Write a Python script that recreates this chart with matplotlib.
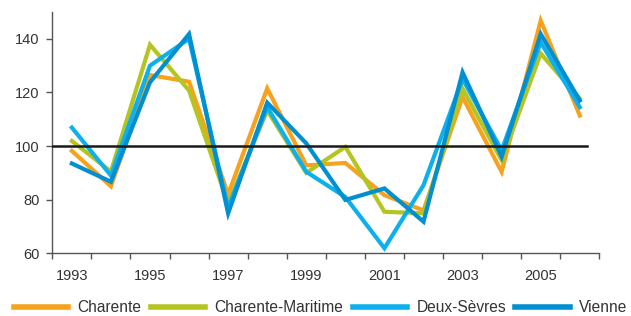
import matplotlib
matplotlib.use("Agg")
import matplotlib.pyplot as plt
from matplotlib.ticker import FixedLocator, NullFormatter, FixedFormatter

plt.rcParams["font.family"] = ["Liberation Sans", "DejaVu Sans"]

years = list(range(1993, 2007))
charente = [98.2, 85.0, 126.5, 124.0, 82.0, 121.5, 92.8, 93.7, 81.7, 76.0, 118.3, 90.4, 146.8, 111.4]
charente_maritime = [101.9, 90.5, 137.8, 120.7, 78.5, 113.3, 90.0, 99.7, 75.5, 74.9, 121.4, 94.7, 134.5, 117.7]
deux_sevres = [106.9, 89.0, 130.0, 140.0, 77.0, 114.5, 90.4, 81.0, 61.9, 85.4, 125.0, 98.4, 138.7, 114.5]
vienne = [93.5, 86.7, 123.8, 141.8, 74.9, 116.2, 101.0, 79.9, 84.2, 71.8, 127.5, 96.0, 141.8, 117.0]

series = [
    ("Charente", charente, "#F7A21D"),
    ("Charente-Maritime", charente_maritime, "#B5C420"),
    ("Deux-Sèvres", deux_sevres, "#0DB0EC"),
    ("Vienne", vienne, "#0090D2"),
]

AXIS = "#555555"
TEXT = "#333333"

fig = plt.figure(figsize=(6.31, 3.16), dpi=100)
ax = fig.add_axes([0.0829, 0.1984, 0.8669, 0.7636])

x = list(range(len(years)))
for name, vals, col in series:
    ax.plot(x, vals, color=col, linewidth=3.0, label=name, solid_joinstyle="miter")

ax.axhline(100, xmin=0, xmax=0.977, color="#1a1a1a", linewidth=1.8, zorder=5)

ax.set_xlim(-0.5, len(years) - 0.5)
ax.set_ylim(60, 150)
ax.set_yticks([60, 80, 100, 120, 140])

# ticks at category boundaries, labels every other year at centres
ax.xaxis.set_major_locator(FixedLocator([i - 0.5 for i in range(len(years) + 1)]))
ax.xaxis.set_major_formatter(NullFormatter())
label_pos = [i for i in x if i % 2 == 0]
ax.xaxis.set_minor_locator(FixedLocator(label_pos))
ax.xaxis.set_minor_formatter(FixedFormatter([str(years[i]) for i in label_pos]))
ax.tick_params(axis="x", which="major", length=4, width=1, color=AXIS, direction="out")
ax.tick_params(axis="x", which="minor", length=0, pad=11.5, labelsize=10.5, labelcolor=TEXT)
ax.tick_params(axis="y", length=4, width=1, color=AXIS, pad=5, labelsize=10.5, labelcolor=TEXT)

for side in ("top", "right"):
    ax.spines[side].set_visible(False)
for side in ("left", "bottom"):
    ax.spines[side].set_color(AXIS)
    ax.spines[side].set_linewidth(1)

leg = fig.legend(loc="center", bbox_to_anchor=(0.508, 0.027), ncol=4, frameon=False,
                 fontsize=11.2, handlelength=3.5, handletextpad=0.6, columnspacing=0.6,
                 borderaxespad=0)
for line in leg.get_lines():
    line.set_linewidth(4)
for t in leg.get_texts():
    t.set_color(TEXT)

fig.savefig("out.png", dpi=100)
plt.close(fig)
